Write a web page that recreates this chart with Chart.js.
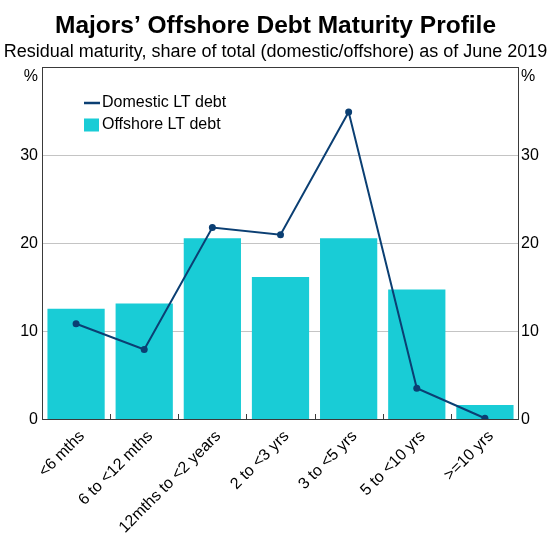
<!DOCTYPE html>
<html>
<head>
<meta charset="utf-8">
<script src="https://cdn.jsdelivr.net/npm/chart.js@4"></script>
<style>
  html, body { margin: 0; padding: 0; background: #fff; }
  #wrap { width: 551px; height: 541px; position: relative; }
</style>
</head>
<body>
<div id="wrap"><canvas id="c"></canvas></div>
<script>
const categories = ['<6 mths', '6 to <12 mths', '12mths to <2 years', '2 to <3 yrs', '3 to <5 yrs', '5 to <10 yrs', '>=10 yrs'];
const offshoreLT = [12.6, 13.2, 20.6, 16.2, 20.6, 14.8, 1.7];
const domesticLT = [10.9, 8.0, 21.8, 21.0, 34.9, 3.6, 0.2];
const yTickValues = [0, 10, 20, 30, 40];
const yUnitLabel = '%';
const titleText = 'Majors\u2019 Offshore Debt Maturity Profile';
const subtitleText = 'Residual maturity, share of total (domestic/offshore) as of June 2019';
const seriesNames = ['Domestic LT debt', 'Offshore LT debt'];

const FONT = "'Liberation Sans', Arial, sans-serif";
const BAR_COLOR = '#19CCD6';
const LINE_COLOR = '#0B3F73';
const FRAME_COLOR = '#3a3a3a';

const decor = {
  id: 'decor',
  afterDatasetsDraw(chart) {
    const { ctx, chartArea: a, scales: { x } } = chart;
    ctx.save();
    ctx.strokeStyle = FRAME_COLOR;
    ctx.lineWidth = 1;
    for (let i = 1; i < categories.length; i++) {
      const px = Math.round((x.getPixelForTick(i - 1) + x.getPixelForTick(i)) / 2) + 0.5;
      ctx.beginPath();
      ctx.moveTo(px, a.bottom);
      ctx.lineTo(px, a.bottom - 6);
      ctx.stroke();
    }
    ctx.strokeRect(Math.round(a.left) + 0.5, Math.round(a.top) + 0.5,
      Math.round(a.right) - Math.round(a.left) - 1, Math.round(a.bottom) - Math.round(a.top) - 1);
    ctx.restore();
  },
  afterDraw(chart) {
    const { ctx, chartArea: a, scales: { y } } = chart;
    ctx.save();
    ctx.fillStyle = '#000';
    ctx.font = '16px ' + FONT;
    ctx.textBaseline = 'middle';
    const py = y.getPixelForValue(yTickValues[yTickValues.length - 1]) + 10;
    ctx.textAlign = 'right';
    ctx.fillText(yUnitLabel, a.left - 4, py);
    ctx.textAlign = 'left';
    ctx.fillText(yUnitLabel, a.right + 2, py);

    // legend
    const lx = a.left + 42;
    const ly1 = a.top + 36;
    const ly2 = a.top + 58;
    ctx.strokeStyle = LINE_COLOR;
    ctx.lineWidth = 2.5;
    ctx.beginPath();
    ctx.moveTo(lx, ly1);
    ctx.lineTo(lx + 16, ly1);
    ctx.stroke();
    ctx.fillStyle = BAR_COLOR;
    ctx.fillRect(lx, ly2 - 6.5, 15, 13);
    ctx.fillStyle = '#000';
    ctx.textAlign = 'left';
    ctx.fillText(seriesNames[0], lx + 18, ly1);
    ctx.fillText(seriesNames[1], lx + 18, ly2);
    ctx.restore();
  }
};

const tickFont = { family: FONT, size: 16 };

new Chart(document.getElementById('c'), {
  type: 'bar',
  data: {
    labels: categories,
    datasets: [
      {
        type: 'line',
        label: seriesNames[0],
        data: domesticLT,
        borderColor: LINE_COLOR,
        backgroundColor: LINE_COLOR,
        borderWidth: 2,
        pointRadius: 3.5,
        pointHoverRadius: 3.5,
        pointBackgroundColor: LINE_COLOR,
        pointBorderWidth: 0,
        tension: 0,
        order: 0,
        yAxisID: 'y'
      },
      {
        type: 'bar',
        label: seriesNames[1],
        data: offshoreLT,
        backgroundColor: BAR_COLOR,
        borderWidth: 0,
        barPercentage: 0.84,
        categoryPercentage: 1.0,
        order: 1,
        yAxisID: 'y'
      }
    ]
  },
  options: {
    responsive: true,
    maintainAspectRatio: false,
    animation: false,
    layout: { padding: 0 },
    plugins: {
      legend: { display: false },
      tooltip: { enabled: false },
      title: {
        display: true,
        text: titleText,
        color: '#000',
        font: { family: FONT, size: 24.5, weight: 'bold' },
        padding: { top: 12, bottom: 0 }
      },
      subtitle: {
        display: true,
        text: subtitleText,
        color: '#000',
        font: { family: FONT, size: 18 },
        padding: { top: 0, bottom: 4 }
      }
    },
    scales: {
      x: {
        offset: true,
        grid: { display: false, drawTicks: false },
        border: { display: false },
        ticks: {
          color: '#000',
          font: tickFont,
          minRotation: 45,
          maxRotation: 45,
          autoSkip: false,
          padding: 7,
          labelOffset: 6
        },
        afterFit(s) { s.height = 121; }
      },
      y: {
        position: 'left',
        min: yTickValues[0],
        max: yTickValues[yTickValues.length - 1],
        afterBuildTicks(s) { s.ticks = yTickValues.map(v => ({ value: v })); },
        grid: {
          drawTicks: false,
          color: (c) => (c.tick && (c.tick.value === yTickValues[0] || c.tick.value === yTickValues[yTickValues.length - 1])) ? 'rgba(0,0,0,0)' : '#c4c4c4',
          lineWidth: 1
        },
        border: { display: false },
        ticks: {
          color: '#000',
          font: tickFont,
          padding: 4,
          callback: (v) => v === yTickValues[yTickValues.length - 1] ? '' : v
        },
        afterFit(s) { s.width = 42; }
      },
      y2: {
        position: 'right',
        min: yTickValues[0],
        max: yTickValues[yTickValues.length - 1],
        afterBuildTicks(s) { s.ticks = yTickValues.map(v => ({ value: v })); },
        grid: { display: false, drawTicks: false },
        border: { display: false },
        ticks: {
          color: '#000',
          font: tickFont,
          padding: 2,
          callback: (v) => v === yTickValues[yTickValues.length - 1] ? '' : v
        },
        afterFit(s) { s.width = 32; }
      }
    }
  },
  plugins: [decor]
});
</script>
</body>
</html>
